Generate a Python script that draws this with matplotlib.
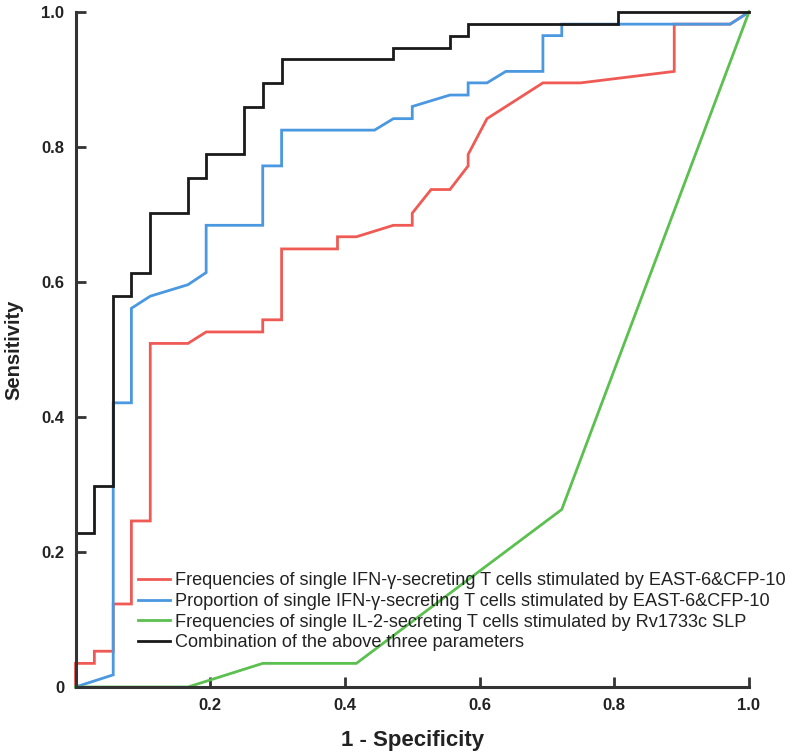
import matplotlib
matplotlib.use("Agg")
import matplotlib.pyplot as plt

# ---- data (1 - specificity, sensitivity) ----
red_fpr = [0, 0, 0.028, 0.028, 0.056, 0.056, 0.083, 0.083, 0.111, 0.111, 0.167, 0.194, 0.278, 0.278,
           0.306, 0.306, 0.389, 0.389, 0.417, 0.472, 0.500, 0.500, 0.528, 0.556, 0.583, 0.583, 0.611,
           0.694, 0.750, 0.889, 0.889, 0.972, 1.0]
red_tpr = [0, 0.035, 0.035, 0.053, 0.053, 0.123, 0.123, 0.246, 0.246, 0.509, 0.509, 0.526, 0.526, 0.544,
           0.544, 0.649, 0.649, 0.667, 0.667, 0.684, 0.684, 0.702, 0.737, 0.737, 0.772, 0.789, 0.842,
           0.895, 0.895, 0.912, 0.982, 0.982, 1.0]

blue_fpr = [0, 0.056, 0.056, 0.083, 0.083, 0.111, 0.167, 0.194, 0.194, 0.278, 0.278, 0.306, 0.306,
            0.444, 0.472, 0.500, 0.500, 0.556, 0.583, 0.583, 0.611, 0.639, 0.694, 0.694, 0.722, 0.722,
            0.972, 1.0]
blue_tpr = [0, 0.018, 0.421, 0.421, 0.561, 0.579, 0.596, 0.614, 0.684, 0.684, 0.772, 0.772, 0.825,
            0.825, 0.842, 0.842, 0.860, 0.877, 0.877, 0.895, 0.895, 0.912, 0.912, 0.965, 0.965, 0.982,
            0.982, 1.0]

green_fpr = [0, 0.167, 0.278, 0.417, 0.722, 1.0]
green_tpr = [0, 0, 0.035, 0.035, 0.263, 1.0]

black_fpr = [0, 0, 0.028, 0.028, 0.056, 0.056, 0.083, 0.083, 0.111, 0.111, 0.167, 0.167, 0.194, 0.194,
             0.250, 0.250, 0.278, 0.278, 0.306, 0.306, 0.472, 0.472, 0.556, 0.556, 0.583, 0.583,
             0.806, 0.806, 1.0]
black_tpr = [0, 0.228, 0.228, 0.298, 0.298, 0.579, 0.579, 0.614, 0.614, 0.702, 0.702, 0.754, 0.754,
             0.789, 0.789, 0.860, 0.860, 0.895, 0.895, 0.930, 0.930, 0.947, 0.947, 0.965, 0.965, 0.982,
             0.982, 1.0, 1.0]

labels = [
    "Frequencies of single IFN-\u03b3-secreting T cells stimulated by EAST-6&CFP-10",
    "Proportion of single IFN-\u03b3-secreting T cells stimulated by EAST-6&CFP-10",
    "Frequencies of single IL-2-secreting T cells stimulated by Rv1733c SLP",
    "Combination of the above three parameters",
]
colors = ["#ef5a55", "#4a98e0", "#5cc050", "#1a1a1a"]

x_ticks = [0.2, 0.4, 0.6, 0.8, 1.0]
x_ticklabels = ["0.2", "0.4", "0.6", "0.8", "1.0"]
y_ticks = [0, 0.2, 0.4, 0.6, 0.8, 1.0]
y_ticklabels = ["0", "0.2", "0.4", "0.6", "0.8", "1.0"]

narrow = ["Liberation Sans Narrow", "Liberation Sans", "DejaVu Sans"]
regular = ["Liberation Sans", "DejaVu Sans"]

fig = plt.figure(figsize=(8.0, 7.56), dpi=100)
ax = fig.add_axes([75.5 / 800, 69 / 756, 673.5 / 800, 675 / 756])

series = [(red_fpr, red_tpr), (blue_fpr, blue_tpr), (green_fpr, green_tpr), (black_fpr, black_tpr)]
for (fx, ty), c, lab in zip(series, colors, labels):
    ax.plot(fx, ty, color=c, lw=2.0, label=lab, solid_joinstyle="miter", clip_on=False)

ax.set_xlim(0, 1)
ax.set_ylim(0, 1)
for s in ["top", "right"]:
    ax.spines[s].set_visible(False)
for s in ["left", "bottom"]:
    ax.spines[s].set_linewidth(2.2)
    ax.spines[s].set_color("#333333")

ax.set_xticks(x_ticks)
ax.set_xticklabels(x_ticklabels)
ax.set_yticks(y_ticks)
ax.set_yticklabels(y_ticklabels)
ax.tick_params(axis="both", direction="in", length=7, width=2, color="#333333", pad=8)
for t in ax.get_xticklabels() + ax.get_yticklabels():
    t.set_fontfamily(narrow)
    t.set_fontweight("bold")
    t.set_fontsize(12)
    t.set_color("#222222")

ax.set_xlabel("1 - Specificity", fontfamily=narrow, fontweight="bold", fontsize=16,
              color="#222222", labelpad=12)
ax.set_ylabel("Sensitivity", fontfamily=narrow, fontweight="bold", fontsize=14.5,
              color="#222222")
ax.yaxis.set_label_coords(-0.077, 0.5)

leg = ax.legend(loc="upper left", bbox_to_anchor=(0.093, 0.170), frameon=False,
                prop={"family": regular, "size": 13.1}, handlelength=1.75, handletextpad=0.28,
                labelspacing=0.2, borderpad=0, borderaxespad=0)
for t in leg.get_texts():
    t.set_color("#222222")
for l in leg.get_lines():
    l.set_linewidth(2.0)

fig.savefig("out.png", dpi=100)
